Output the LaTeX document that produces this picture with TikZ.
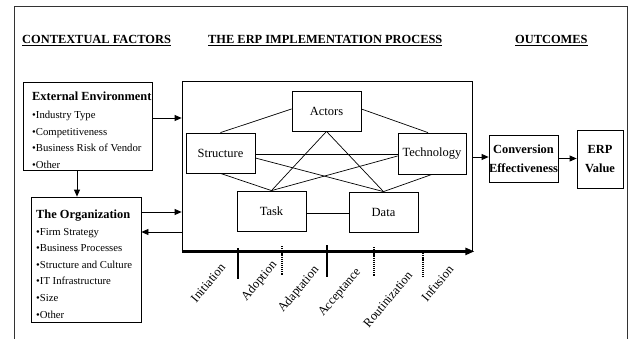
\documentclass[tikz,border=0pt]{standalone}
\usepackage{fontspec}
\setmainfont{Liberation Serif}
\usetikzlibrary{arrows.meta}
\begin{document}
\begin{tikzpicture}[x=1pt,y=-1pt,
  box/.style={draw, line width=0.8pt, inner sep=0pt},
  hdr/.style={font=\fontsize{12.4}{14}\selectfont\bfseries, inner sep=0pt},
  ttl/.style={font=\fontsize{12.4}{14}\selectfont\bfseries, inner sep=0pt, anchor=base west},
  itm/.style={font=\fontsize{10.7}{13}\selectfont, inner sep=0pt, anchor=base west},
  inner/.style={box, minimum width=69pt, minimum height=40pt, font=\fontsize{12.5}{14}\selectfont},
  outc/.style={box, align=center, font=\fontsize{12.4}{19}\selectfont\bfseries},
  lbl/.style={font=\fontsize{12.6}{14}\selectfont, inner sep=0pt, rotate=50, anchor=east},
  arr/.style={line width=0.8pt, -{Triangle[length=7pt,width=6pt]}},
  link/.style={line width=0.7pt},
  soltick/.style={line width=1.5pt},
  dottick/.style={line width=1.4pt, dash pattern=on 1.2pt off 0.9pt}]
\useasboundingbox (0,0) rectangle (631,339);
% outer frame
\draw[line width=0.8pt, black!80] (14.5,345) -- (14.5,6) -- (627.5,6) -- (627.5,345);
% headers
\node[hdr, anchor=base west] (h1) at (22,44) {\underline{CONTEXTUAL FACTORS}};
\node[hdr, anchor=base west] (h2) at (208,44) {\underline{THE ERP IMPLEMENTATION PROCESS}};
\node[hdr, anchor=base west] (h3) at (515,44) {\underline{OUTCOMES}};
% external environment
\node[box, minimum width=129pt, minimum height=88pt] (ext) at (87.5,126) {};
\node[ttl] (extt) at (32,101) {External Environment};
\node[itm] (ext1) at (32,119) {•Industry Type};
\node[itm] (ext2) at (32,135.3) {•Competitiveness};
\node[itm] (ext3) at (32,151.6) {•Business Risk of Vendor};
\node[itm] (ext4) at (32,168) {•Other};
% organization
\node[box, minimum width=110pt, minimum height=125pt] (org) at (86,259.5) {};
\node[ttl] (orgt) at (36,218) {The Organization};
\node[itm] (org1) at (36,235) {•Firm Strategy};
\node[itm] (org2) at (36,251.6) {•Business Processes};
\node[itm] (org3) at (36,268.2) {•Structure and Culture};
\node[itm] (org4) at (36,284.8) {•IT Infrastructure};
\node[itm] (org5) at (36,301.4) {•Size};
\node[itm] (org6) at (36,318) {•Other};
% process box
\node[box, minimum width=290pt, minimum height=170pt] (proc) at (327,166) {};
\draw[line width=2.4pt, -{Triangle[length=9pt,width=7pt]}] (proc.south west) -- ([xshift=2pt]proc.south east);
% inner nodes
\node[inner] (act) at (326.5,111) {Actors};
\node[inner] (str) at (220.5,153) {Structure};
\node[inner, minimum width=68pt, minimum height=41pt] (tec) at (432,153.5) {Technology};
\node[inner] (tsk) at (271.5,211) {Task};
\node[inner] (dat) at (383.5,212) {Data};
\draw[link] (str.north) -- ([yshift=2pt]act.west);
\draw[link] ([yshift=2pt]act.east) -- ([xshift=-4pt]tec.north);
\draw[link] ([yshift=-1pt]str.east) -- ([yshift=-1pt]str.east -| tec.west);
\draw[link] ([yshift=-5pt]str.east) -- (dat.north);
\draw[link] ([yshift=-2.5pt]tec.west) -- (tsk.north);
\draw[link] (act.south) -- (tsk.north);
\draw[link] (act.south) -- (dat.north);
\draw[link] (str.south) -- (tsk.north);
\draw[link] (tec.south) -- (dat.north);
\draw[link] ([yshift=-2pt]tsk.east) -- ([yshift=-2pt]tsk.east -| dat.west);
% timeline ticks
\draw[soltick] (238,248) -- (238,279);
\draw[dottick] (282,246) -- (282,275);
\draw[soltick] (327,245) -- (327,277);
\draw[dottick] (374,247) -- (374,276);
\draw[dottick] (423,251) -- (423,278);
% timeline labels
\node[lbl] (l1) at (223,265) {Initiation};
\node[lbl] (l2) at (275,263) {Adoption};
\node[lbl] (l3) at (317,268) {Adaptation};
\node[lbl] (l4) at (359,270) {Acceptance};
\node[lbl] (l5) at (410,273) {Routinization};
\node[lbl] (l6) at (451,267) {Infusion};
% outcomes
\node[outc, minimum width=69pt, minimum height=47pt] (conv) at (523.5,158.5) {Conversion\\Effectiveness};
\node[outc, minimum width=46pt, minimum height=58pt] (erp) at (600,159) {ERP\\Value};
% arrows
\draw[arr] ([yshift=8pt]ext.east) -- ([yshift=8pt]ext.east -| proc.west);
\draw[arr] ([xshift=-10.5pt]ext.south) -- ([xshift=-10.5pt]ext.south |- org.north);
\draw[arr] ([yshift=47.5pt]org.east) -- ([yshift=47.5pt]org.east -| proc.west);
\draw[arr] ([yshift=27.5pt]org.east -| proc.west) -- ([yshift=27.5pt]org.east);
\draw[arr] ([yshift=1.5pt]conv.west -| proc.east) -- ([yshift=1.5pt]conv.west);
\draw[arr] (conv.east) -- (conv.east -| erp.west);
\end{tikzpicture}
\end{document}
